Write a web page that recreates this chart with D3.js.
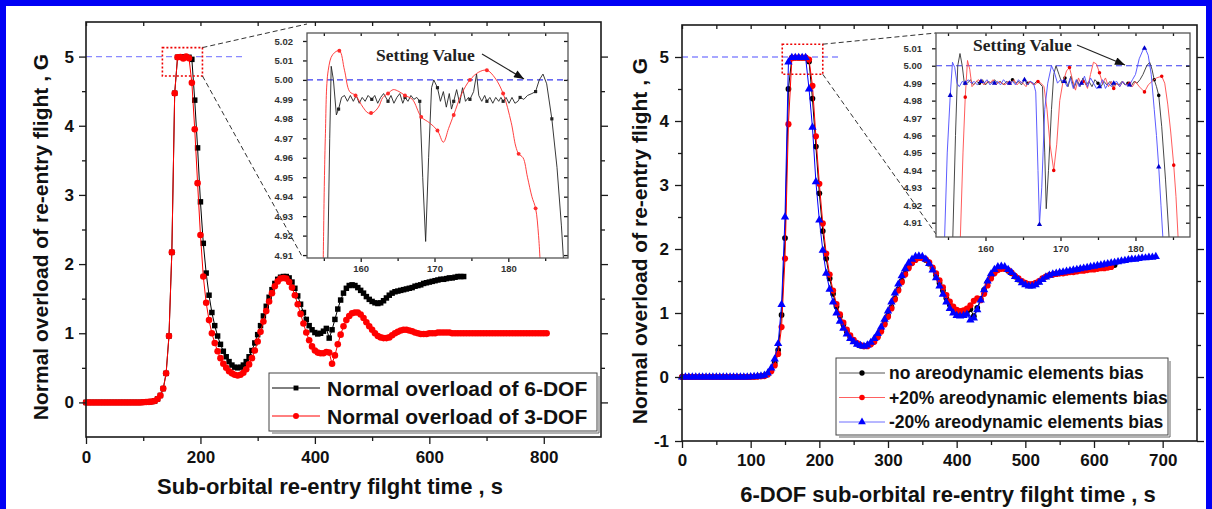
<!DOCTYPE html>
<html><head><meta charset="utf-8">
<script src="https://cdn.jsdelivr.net/npm/d3@7"></script>
<style>body{margin:0;background:#fff;}</style>
</head><body><script>
// ---------------- DATA ----------------
const STEP = 5; // sampling step (s) of the main-chart series, starting at t = 0

// Left chart: 6-DOF (black) and 3-DOF (red) normal overload, G
const left6DOF = [
0,0,0,0,0,0,0,0,0,0,
0,0,0,0,0,0,0,0,0,0,
0.003,0.005,0.008,0.012,0.02,0.05,0.1,0.2,0.42,0.96,
2.17,4.47,4.99,4.99,4.996,4.99,4.99,4.96,4.37,3.68,
2.9,2.3,1.87,1.55,1.3,1.11,0.96,0.84,0.74,0.66,
0.59,0.54,0.51,0.5,0.51,0.54,0.59,0.66,0.75,0.86,
0.98,1.11,1.25,1.39,1.52,1.63,1.72,1.78,1.81,1.82,
1.82,1.8,1.74,1.65,1.54,1.42,1.3,1.2,1.11,1.05,
1.01,0.99,1.0,1.03,1.07,0.93,1.05,1.2,1.35,1.48,
1.58,1.65,1.69,1.7,1.69,1.66,1.62,1.58,1.53,1.49,
1.46,1.44,1.43,1.44,1.47,1.51,1.55,1.58,1.6,1.61,
1.62,1.63,1.64,1.65,1.66,1.68,1.69,1.7,1.72,1.73,
1.74,1.75,1.76,1.77,1.78,1.78,1.79,1.8,1.8,1.81,
1.82,1.82,1.82];
const left3DOF = [
0,0,0,0,0,0,0,0,0,0,
0,0,0,0,0,0,0,0,0,0,
0.003,0.005,0.008,0.012,0.02,0.05,0.1,0.2,0.42,0.96,
2.17,4.47,4.99,4.994,4.974,5.0,4.975,4.62,3.95,3.17,
2.42,1.82,1.44,1.19,1.0,0.86,0.74,0.64,0.56,0.5,
0.45,0.42,0.4,0.39,0.4,0.43,0.48,0.55,0.64,0.75,
0.88,1.02,1.17,1.32,1.46,1.58,1.68,1.75,1.79,1.8,
1.79,1.74,1.66,1.55,1.42,1.28,1.14,1.01,0.9,0.81,
0.75,0.72,0.71,0.71,0.73,0.72,0.56,0.68,0.84,0.98,
1.1,1.19,1.25,1.29,1.3,1.3,1.27,1.22,1.16,1.1,
1.05,1.0,0.96,0.94,0.93,0.93,0.94,0.97,1.0,1.02,
1.04,1.05,1.05,1.04,1.03,1.01,1.0,0.99,0.99,0.99,
1.0,1.0,1.0,1.01,1.01,1.01,1.01,1.01,1.0,1.0,
1.0,1.0,1.0,1.0,1.0,1.0,1.0,1.0,1.0,1.0,
1.0,1.0,1.0,1.0,1.0,1.0,1.0,1.0,1.0,1.0,
1.0,1.0,1.0,1.0,1.0,1.0,1.0,1.0,1.0,1.0,
1.0,1.0];

// Right chart: 6-DOF with no / +20% / -20% aerodynamic bias
const rightNoBias = [
0,0,0,0,0,0,0,0,0,0,
0,0,0,0,0,0,0,0,0,0,
0.003,0.005,0.008,0.012,0.02,0.05,0.11,0.22,0.42,0.97,
2.17,4.5,4.99,4.991,4.99,4.99,4.99,4.93,4.35,3.6,
2.87,2.28,1.85,1.54,1.3,1.1,0.95,0.82,0.71,0.63,
0.56,0.52,0.49,0.48,0.49,0.52,0.57,0.64,0.73,0.84,
0.96,1.09,1.23,1.37,1.5,1.62,1.72,1.79,1.84,1.86,
1.86,1.83,1.77,1.69,1.59,1.47,1.35,1.23,1.13,1.05,
1.0,0.98,0.99,1.02,1.06,0.95,1.08,1.22,1.36,1.48,
1.58,1.65,1.69,1.7,1.69,1.66,1.62,1.57,1.52,1.48,
1.45,1.43,1.43,1.45,1.49,1.53,1.57,1.59,1.6,1.61,
1.62,1.63,1.64,1.65,1.66,1.67,1.68,1.69,1.69,1.7,
1.71,1.72,1.72,1.73,1.74,1.75,1.75];
const rightPlus20 = [
0,0,0,0,0,0,0,0,0,0,
0,0,0,0,0,0,0,0,0,0,
0.002,0.004,0.007,0.01,0.015,0.04,0.09,0.18,0.36,0.78,
1.85,3.95,4.98,4.99,4.99,4.99,4.99,4.96,4.55,3.76,
3.02,2.4,1.93,1.6,1.35,1.14,0.98,0.85,0.74,0.65,
0.58,0.53,0.5,0.48,0.48,0.51,0.55,0.62,0.71,0.82,
0.94,1.07,1.21,1.35,1.48,1.6,1.7,1.78,1.83,1.86,
1.86,1.84,1.79,1.71,1.62,1.51,1.4,1.28,1.18,1.1,
1.05,1.03,1.04,1.07,1.12,1.19,1.23,1.2,1.3,1.43,
1.54,1.62,1.67,1.69,1.69,1.67,1.63,1.58,1.54,1.5,
1.47,1.45,1.45,1.47,1.5,1.54,1.57,1.59,1.6,1.61,
1.62,1.62,1.63,1.64,1.64,1.65,1.66,1.66,1.67,1.68,
1.68,1.69,1.7,1.7,1.71,1.72];
const rightMinus20 = [
0,0,0,0,0,0,0,0,0,0,
0,0,0,0,0,0,0,0,0,0,
0.004,0.007,0.01,0.015,0.025,0.06,0.14,0.28,0.52,1.13,
2.5,4.92,4.99,4.99,4.99,4.99,4.99,4.5,3.9,3.05,
2.45,1.98,1.62,1.37,1.17,1.0,0.87,0.76,0.67,0.6,
0.55,0.51,0.49,0.48,0.5,0.54,0.6,0.68,0.78,0.9,
1.03,1.17,1.31,1.45,1.58,1.69,1.78,1.84,1.88,1.89,
1.88,1.84,1.77,1.67,1.55,1.42,1.29,1.17,1.07,1.0,
0.96,0.95,0.96,0.98,0.89,0.92,1.05,1.2,1.36,1.5,
1.61,1.68,1.72,1.73,1.72,1.68,1.63,1.57,1.52,1.47,
1.44,1.42,1.42,1.44,1.48,1.52,1.56,1.59,1.61,1.62,
1.63,1.64,1.65,1.66,1.67,1.68,1.69,1.7,1.71,1.72,
1.73,1.74,1.75,1.76,1.77,1.78,1.79,1.8,1.81,1.82,
1.83,1.84,1.84,1.85,1.86,1.86,1.87,1.87,1.88];

// Left inset (zoom of plateau), [time, G]
const inL6 = [[155.5,4.9],[155.8,4.97],[156.0,5.007],[156.3,5.0],[156.7,4.982],[157.0,4.985],[157.4,4.991],[157.8,4.992],[158.2,4.989],[158.6,4.992],[159.0,4.989],[159.4,4.992],[159.8,4.988],[160.2,4.991],[160.6,4.989],[161.0,4.992],[161.5,4.990],[161.9,4.992],[162.3,4.988],[162.7,4.991],[163.1,4.993],[163.7,4.989],[164.1,4.992],[164.5,4.988],[164.9,4.991],[165.3,4.993],[165.7,4.988],[166.0,4.991],[166.4,4.989],[166.8,4.992],[167.2,4.990],[167.6,4.991],[168.0,4.989],[168.4,4.95],[168.8,4.917],[169.2,4.96],[169.6,4.996],[169.9,5.0],[170.4,4.996],[170.8,4.989],[171.2,4.994],[171.6,4.986],[172.0,4.993],[172.3,4.985],[172.6,4.989],[173.0,4.995],[173.4,4.988],[173.8,4.996],[174.2,4.989],[174.6,4.991],[174.8,4.990],[175.3,4.994],[175.7,5.003],[176.0,4.992],[176.4,4.989],[176.8,4.992],[177.1,4.989],[177.5,4.991],[177.9,4.988],[178.3,4.991],[178.7,4.989],[179.0,4.991],[179.3,4.989],[179.7,4.991],[180.1,4.988],[180.5,4.991],[180.9,4.988],[181.3,4.989],[181.6,4.991],[182.1,4.990],[182.6,4.992],[183.2,4.993],[183.7,4.994],[184.2,5.0],[184.7,5.003],[185.2,4.998],[185.9,4.980],[186.6,4.955],[187.2,4.925],[187.6,4.9]];
const inL6Marks = [[157.0,4.985],[161.5,4.990],[163.7,4.989],[166.0,4.991],[168.0,4.989],[170.4,4.996],[172.6,4.989],[174.8,4.990],[177.1,4.989],[179.3,4.989],[181.6,4.991],[183.7,4.994],[185.9,4.980]];
const inL3 = [[154.9,4.9],[155.2,4.97],[155.6,5.005],[156.2,5.013],[157.1,5.015],[157.8,5.005],[158.5,4.994],[159.3,4.992],[160.3,4.986],[161.0,4.983],[161.6,4.983],[162.4,4.986],[163.0,4.991],[163.7,4.993],[164.4,4.995],[165.2,4.994],[166.0,4.992],[167.0,4.990],[168.2,4.981],[169.3,4.978],[170.4,4.974],[171.2,4.968],[171.9,4.975],[172.6,4.982],[173.7,4.993],[174.8,5.0],[176.0,5.004],[177.1,5.005],[178.2,5.001],[179.3,4.993],[180.4,4.978],[181.0,4.966],[181.4,4.962],[182.0,4.960],[182.6,4.950],[183.2,4.940],[183.7,4.934],[184.1,4.92],[184.4,4.9]];
const inL3Marks = [[157.1,5.015],[159.3,4.992],[161.4,4.983],[163.7,4.993],[166.0,4.992],[168.2,4.981],[170.4,4.974],[172.6,4.982],[174.8,5.0],[177.1,5.005],[179.3,4.993],[181.4,4.962],[183.7,4.934]];

// Right inset
const inR0 = [[155.6,4.895],[156.0,4.96],[156.3,5.0],[156.6,5.007],[156.9,5.0],[157.2,4.989],[157.6,4.990],[158.0,4.992],[158.4,4.989],[158.8,4.991],[159.2,4.990],[159.6,4.992],[160.0,4.989],[160.4,4.991],[160.8,4.990],[161.2,4.992],[161.6,4.990],[162.0,4.991],[162.4,4.989],[162.8,4.991],[163.2,4.990],[163.6,4.992],[164.0,4.990],[164.4,4.991],[164.8,4.989],[165.2,4.992],[165.6,4.990],[166.0,4.991],[166.4,4.989],[166.8,4.991],[167.2,4.990],[167.6,4.988],[167.9,4.95],[168.1,4.918],[168.4,4.94],[168.8,4.975],[169.1,4.995],[169.4,5.0],[169.8,4.995],[170.2,4.99],[170.6,4.993],[171.0,4.988],[171.4,4.994],[171.8,4.987],[172.2,4.992],[172.6,4.988],[173.0,4.993],[173.4,4.989],[173.8,4.991],[174.2,4.988],[174.6,4.992],[175.0,4.990],[175.4,4.988],[175.8,4.991],[176.2,4.989],[176.6,4.991],[177.0,4.988],[177.4,4.990],[177.8,4.989],[178.2,4.991],[178.6,4.989],[179.0,4.990],[179.4,4.988],[179.8,4.991],[180.2,4.990],[180.6,4.992],[181.0,4.995],[181.5,5.0],[181.9,5.002],[182.2,4.998],[182.5,4.992],[182.8,4.988],[183.1,4.983],[183.5,4.965],[184.0,4.935],[184.5,4.9]];
const inR0Marks = [[159.2,4.990],[163.6,4.992],[165.6,4.990],[170.6,4.993],[175.0,4.990],[179.0,4.990],[182.5,4.992],[183.1,4.983]];
const inRp = [[156.6,4.895],[157.0,4.95],[157.3,4.982],[157.6,5.003],[157.9,4.998],[158.2,4.988],[158.6,4.990],[159.0,4.992],[159.4,4.991],[159.8,4.989],[160.2,4.991],[160.6,4.990],[161.0,4.992],[161.4,4.989],[161.8,4.991],[162.2,4.990],[162.6,4.989],[163.0,4.991],[163.4,4.990],[163.8,4.992],[164.2,4.989],[164.6,4.991],[165.0,4.990],[165.4,4.988],[165.8,4.991],[166.2,4.990],[166.6,4.989],[167.0,4.991],[167.4,4.990],[167.8,4.988],[168.2,4.975],[168.6,4.955],[169.1,4.940],[169.5,4.955],[169.9,4.980],[170.3,4.990],[170.8,4.997],[171.2,4.999],[171.6,4.992],[172.0,4.986],[172.4,4.993],[172.8,4.989],[173.2,4.991],[173.6,4.987],[174.0,4.995],[174.4,5.002],[174.8,5.001],[175.2,4.996],[175.6,4.990],[176.0,4.993],[176.4,4.988],[176.8,4.991],[177.1,4.987],[177.5,4.990],[177.9,4.988],[178.3,4.991],[178.7,4.989],[179.2,4.990],[179.6,4.988],[180.0,4.991],[180.5,4.988],[181.2,4.985],[181.7,4.989],[182.2,4.991],[182.8,4.993],[183.5,4.994],[183.9,4.990],[184.3,4.978],[184.7,4.962],[185.1,4.943],[185.4,4.925],[185.7,4.9]];
const inRpMarks = [[157.3,4.982],[159.4,4.991],[163.2,4.990],[167.0,4.991],[169.1,4.940],[171.2,4.999],[173.0,4.991],[175.2,4.996],[177.1,4.987],[179.2,4.990],[181.2,4.985],[183.5,4.994],[185.1,4.943]];
const inRm = [[154.5,4.895],[154.9,4.95],[155.3,4.983],[155.6,5.002],[155.9,4.999],[156.2,4.99],[156.5,4.988],[156.9,4.991],[157.3,4.990],[157.7,4.992],[158.1,4.990],[158.5,4.991],[158.9,4.989],[159.4,4.991],[159.8,4.990],[160.2,4.992],[160.6,4.989],[161.0,4.991],[161.2,4.990],[161.6,4.991],[162.0,4.989],[162.4,4.992],[162.8,4.990],[163.2,4.990],[163.6,4.991],[164.0,4.989],[164.4,4.992],[164.8,4.990],[165.2,4.992],[165.6,4.989],[166.0,4.991],[166.4,4.990],[166.7,4.985],[167.0,4.94],[167.2,4.909],[167.5,4.93],[167.9,4.975],[168.3,4.99],[168.8,5.0],[169.2,4.996],[169.6,4.99],[170.0,4.992],[170.5,4.991],[170.9,4.988],[171.3,4.993],[171.7,4.987],[172.1,4.992],[172.5,4.988],[172.8,4.990],[173.2,4.994],[173.6,4.988],[174.0,4.993],[174.4,4.990],[174.8,4.987],[175.2,4.988],[175.6,4.992],[176.0,4.987],[176.4,4.990],[176.8,4.988],[177.1,4.990],[177.5,4.991],[177.9,4.988],[178.3,4.991],[178.7,4.989],[179.2,4.989],[179.6,4.992],[180.0,4.995],[180.5,5.004],[181.0,5.009],[181.3,5.010],[181.7,5.006],[182.1,4.995],[182.5,4.975],[182.8,4.96],[183.1,4.942],[183.4,4.92],[183.7,4.898]];
const inRmMarks = [[155.3,4.983],[157.3,4.990],[159.4,4.991],[161.2,4.990],[163.2,4.990],[165.2,4.992],[167.2,4.909],[170.5,4.991],[172.8,4.990],[175.2,4.988],[177.1,4.990],[179.2,4.989],[181.2,5.010],[183.1,4.942]];

// Ticks / labels
const leftXMajor = [0,200,400,600,800], leftXMinor = [100,300,500,700];
const leftYMajor = [0,1,2,3,4,5], leftYMinor = [0.5,1.5,2.5,3.5,4.5];
const rightXMajor = [0,100,200,300,400,500,600,700], rightXMinor = [50,150,250,350,450,550,650];
const rightYMajor = [-1,0,1,2,3,4,5], rightYMinor = [-0.5,0.5,1.5,2.5,3.5,4.5];
const inLYTicks = [4.91,4.92,4.93,4.94,4.95,4.96,4.97,4.98,4.99,5.00,5.01,5.02];
const inRYTicks = [4.91,4.92,4.93,4.94,4.95,4.96,4.97,4.98,4.99,5.00,5.01];
const inXMajor = [160,170,180], inXMinor = [155,165,175,185];
const SETTING = 5.0;
const yTitle = "Normal overload of re-entry flight , G";
const leftXTitle = "Sub-orbital re-entry filght time , s";
const rightXTitle = "6-DOF sub-orbital re-entry filght time , s";
const leftLegend = ["Normal overload of 6-DOF","Normal overload of 3-DOF"];
const rightLegend = ["no areodynamic elements bias","+20% areodynamic elements bias","-20% areodynamic elements bias"];
const settingLabel = "Setting Value";

// ---------------- DRAWING ----------------
const SANS = "Arial, 'Liberation Sans', sans-serif";
const SERIF = "'Times New Roman', 'Liberation Serif', serif";
const intFmt = d => String(d);           // plain hyphen-minus like the original
const svg = d3.select("body").append("svg").attr("width",1212).attr("height",509).style("display","block");
svg.append("rect").attr("width",1212).attr("height",509).attr("fill","#fff");
// blue frame
svg.append("rect").attr("x",0).attr("y",0).attr("width",1212).attr("height",6).attr("fill","#0000f5");
svg.append("rect").attr("x",0).attr("y",0).attr("width",6).attr("height",509).attr("fill","#0000f5");
svg.append("rect").attr("x",1206).attr("y",0).attr("width",6).attr("height",509).attr("fill","#0000f5");

const defs = svg.append("defs");
defs.append("marker").attr("id","arr").attr("viewBox","0 0 10 8").attr("refX",10).attr("refY",4)
  .attr("markerWidth",11).attr("markerHeight",8).attr("markerUnits","userSpaceOnUse").attr("orient","auto")
  .append("path").attr("d","M0,0 L10,4 L0,8 Z").attr("fill","#111");

const sym = (type,size)=>d3.symbol().type(type).size(size)();
const toPts = vals => vals.map((v,i)=>[i*STEP, v]);

function styleAxis(sel, fs){
  sel.attr("font-family",SANS).attr("font-weight","bold").attr("font-size",fs);
  sel.select(".domain").remove();
  sel.selectAll(".tick line").attr("stroke","#1a1a1a").attr("stroke-width",1.3);
  sel.selectAll(".tick text").attr("fill","#111");
}

function frameAxes(g, x, y, o){
  const b = o.bottom, t = o.top, l = o.left, r = o.right;
  styleAxis(g.append("g").attr("transform",`translate(0,${b})`).call(d3.axisBottom(x).tickValues(o.xMajor).tickSize(o.maj).tickPadding(o.xPad).tickFormat(o.xFmt)), o.fs);
  styleAxis(g.append("g").attr("transform",`translate(0,${b})`).call(d3.axisBottom(x).tickValues(o.xMinor).tickSize(o.min).tickFormat("")), o.fs);
  styleAxis(g.append("g").attr("transform",`translate(0,${t})`).call(d3.axisBottom(x).tickValues(o.xMajor.concat(o.xMinor)).tickSize(o.min).tickFormat("")), o.fs);
  styleAxis(g.append("g").attr("transform",`translate(${l},0)`).call(d3.axisLeft(y).tickValues(o.yMajor).tickSize(o.maj).tickPadding(o.yPad).tickFormat(o.yFmt)), o.fs);
  styleAxis(g.append("g").attr("transform",`translate(${l},0)`).call(d3.axisLeft(y).tickValues(o.yMinor).tickSize(o.min).tickFormat("")), o.fs);
  styleAxis(g.append("g").attr("transform",`translate(${r},0)`).call(d3.axisRight(y).tickValues(o.yMajor).tickSize(o.rmaj).tickFormat("")), o.fs);
  styleAxis(g.append("g").attr("transform",`translate(${r},0)`).call(d3.axisRight(y).tickValues(o.yMinor).tickSize(o.rmin).tickFormat("")), o.fs);
  g.append("rect").attr("x",l).attr("y",t).attr("width",r-l).attr("height",b-t)
    .attr("fill","none").attr("stroke",o.frameColor||"#1a1a1a").attr("stroke-width",o.fw||1.6);
}

function drawSeries(g, x, y, pts, color, shape, lw, markPts){
  g.append("path").datum(pts).attr("d", d3.line().x(d=>x(d[0])).y(d=>y(d[1])))
    .attr("fill","none").attr("stroke",color).attr("stroke-width",lw).attr("stroke-linejoin","round");
  g.append("g").selectAll("path").data(markPts||pts).join("path").attr("d",shape)
    .attr("transform",d=>`translate(${x(d[0])},${y(d[1])})`).attr("fill",color);
}

function inset(o){
  const x = d3.scaleLinear().domain(o.xd).range([o.left,o.right]);
  const y = d3.scaleLinear().domain(o.yd).range([o.bottom,o.top]);
  const g = svg.append("g");
  g.append("rect").attr("x",o.left).attr("y",o.top).attr("width",o.right-o.left).attr("height",o.bottom-o.top).attr("fill","#fff");
  const cid = "clip"+o.id;
  defs.append("clipPath").attr("id",cid).append("rect").attr("x",o.left).attr("y",o.top).attr("width",o.right-o.left).attr("height",o.bottom-o.top);
  const dg = g.append("g").attr("clip-path",`url(#${cid})`);
  dg.append("line").attr("x1",o.left).attr("x2",o.right).attr("y1",y(SETTING)).attr("y2",y(SETTING))
    .attr("stroke","#3a3af0").attr("stroke-width",1.2).attr("stroke-dasharray","6,4");
  o.series.forEach(s=>{
    dg.append("path").datum(s.pts).attr("d", d3.line().curve(s.curve||d3.curveLinear).x(d=>x(d[0])).y(d=>y(d[1])))
      .attr("fill","none").attr("stroke",s.color).attr("stroke-width",0.9);
    dg.append("g").selectAll("path").data(s.marks).join("path").attr("d",s.shape)
      .attr("transform",d=>`translate(${x(d[0])},${y(d[1])})`).attr("fill",s.mcolor||s.color);
  });
  frameAxes(g, x, y, {bottom:o.bottom, top:o.top, left:o.left, right:o.right,
    xMajor:inXMajor, xMinor:inXMinor, yMajor:o.yTicks, yMinor:[], maj:4, min:3, rmaj:-4, rmin:-3,
    xPad:o.xPad, yPad:o.yPad, fs:9.5, xFmt:d3.format("d"), yFmt:d3.format(".2f"), frameColor:"#555", fw:1.3});
  g.selectAll(".tick text").attr("fill","#333");
  g.append("text").attr("x",o.labelX).attr("y",o.labelY).attr("font-family",SERIF).attr("font-weight","bold")
    .attr("font-size",17.5).attr("fill","#222").text(settingLabel);
  g.append("line").attr("x1",o.arrow[0]).attr("y1",o.arrow[1]).attr("x2",o.arrow[2]).attr("y2",o.arrow[3])
    .attr("stroke","#222").attr("stroke-width",1.2).attr("marker-end","url(#arr)");
}

// ===== LEFT PANEL =====
(function(){
  const o = {left:86, right:601, top:22, bottom:437};
  const x = d3.scaleLinear().domain([0,900]).range([o.left,o.right]);
  const y = d3.scaleLinear().domain([-0.5,5.5]).range([o.bottom,o.top]);
  const g = svg.append("g");
  g.append("line").attr("x1",x(0)).attr("x2",x(278)).attr("y1",y(SETTING)).attr("y2",y(SETTING))
    .attr("stroke","#8a8aff").attr("stroke-width",1.3).attr("stroke-dasharray","6,4");
  drawSeries(g, x, y, toPts(left6DOF), "#000", sym(d3.symbolSquare,30), 1);
  drawSeries(g, x, y, toPts(left3DOF), "#ff0000", sym(d3.symbolCircle,34), 1);
  g.append("rect").attr("x",x(133.5)).attr("y",y(5.13)).attr("width",x(203.5)-x(133.5)).attr("height",y(4.72)-y(5.13))
    .attr("fill","none").attr("stroke","#e00").attr("stroke-width",1.6).attr("stroke-dasharray","2,2");
  g.append("line").attr("x1",x(203.5)).attr("y1",y(5.13)).attr("x2",307).attr("y2",24).attr("stroke","#333").attr("stroke-width",1).attr("stroke-dasharray","5,3");
  g.append("line").attr("x1",x(203.5)).attr("y1",y(4.72)).attr("x2",303).attr("y2",258).attr("stroke","#333").attr("stroke-width",1).attr("stroke-dasharray","5,3");
  frameAxes(g, x, y, {...o, xMajor:leftXMajor, xMinor:leftXMinor, yMajor:leftYMajor, yMinor:leftYMinor,
    maj:7, min:4, rmaj:7, rmin:4, xPad:7, yPad:5, fs:17, xFmt:intFmt, yFmt:intFmt});
  const L = {x:269, y:373, w:328, h:58};
  g.append("path").attr("d",`M${L.x+3},${L.y+L.h+2} H${L.x+L.w+2} V${L.y+3}`).attr("fill","none").attr("stroke","#666").attr("stroke-width",1);
  g.append("rect").attr("x",L.x).attr("y",L.y).attr("width",L.w).attr("height",L.h).attr("fill","#fff").attr("stroke","#444").attr("stroke-width",1);
  const lc = [["#000",sym(d3.symbolSquare,24)],["#ff0000",sym(d3.symbolCircle,28)]];
  leftLegend.forEach((txt,i)=>{
    const yy = 388 + i*28;
    g.append("line").attr("x1",272).attr("x2",320).attr("y1",yy).attr("y2",yy).attr("stroke",lc[i][0]).attr("stroke-width",1);
    g.append("path").attr("d",lc[i][1]).attr("transform",`translate(296,${yy})`).attr("fill",lc[i][0]);
    g.append("text").attr("x",327).attr("y",yy).attr("dy","0.36em").attr("font-family",SANS).attr("font-weight","bold")
      .attr("font-size",21).attr("fill","#111").text(txt);
  });
  g.append("text").attr("x",330).attr("y",494).attr("text-anchor","middle").attr("font-family",SANS).attr("font-weight","bold").attr("font-size",22).attr("fill","#111").text(leftXTitle);
  g.append("text").attr("transform","translate(40,237) rotate(-90)").attr("text-anchor","middle").attr("dy","0.36em").attr("font-family",SANS).attr("font-weight","bold").attr("font-size",21).attr("fill","#111").text(yTitle);
})();

inset({id:"L", left:307, right:568, top:33, bottom:258, xd:[152.72,188.09], yd:[4.9085,5.0241], yTicks:inLYTicks,
  xPad:3, yPad:10, labelX:376, labelY:61, arrow:[482,54,524,79],
  series:[
    {pts:inL6, marks:inL6Marks, color:"#222", shape:sym(d3.symbolSquare,10)},
    {pts:inL3, marks:inL3Marks, color:"#ff2a2a", shape:sym(d3.symbolCircle,12), curve:d3.curveCatmullRom}
  ]});

// ===== RIGHT PANEL =====
(function(){
  const o = {left:682, right:1197, top:25, bottom:441};
  const x = d3.scaleLinear().domain([0,750]).range([o.left,o.right]);
  const y = d3.scaleLinear().domain([-1,5.5]).range([o.bottom,o.top]);
  const g = svg.append("g");
  g.append("line").attr("x1",x(0)).attr("x2",x(231)).attr("y1",y(SETTING)).attr("y2",y(SETTING))
    .attr("stroke","#8a8aff").attr("stroke-width",1.3).attr("stroke-dasharray","6,4");
  drawSeries(g, x, y, toPts(rightNoBias), "#000", sym(d3.symbolCircle,26), 1);
  drawSeries(g, x, y, toPts(rightPlus20), "#ff0000", sym(d3.symbolCircle,30), 1);
  drawSeries(g, x, y, toPts(rightMinus20), "#0000ff", sym(d3.symbolTriangle,30), 1);
  g.append("rect").attr("x",x(146)).attr("y",y(5.2)).attr("width",x(205)-x(146)).attr("height",y(4.73)-y(5.2))
    .attr("fill","none").attr("stroke","#e00").attr("stroke-width",1.6).attr("stroke-dasharray","2,2");
  g.append("line").attr("x1",x(205)).attr("y1",y(5.2)).attr("x2",936).attr("y2",33).attr("stroke","#333").attr("stroke-width",1).attr("stroke-dasharray","5,3");
  g.append("line").attr("x1",x(205)).attr("y1",y(4.73)).attr("x2",936).attr("y2",234).attr("stroke","#333").attr("stroke-width",1).attr("stroke-dasharray","5,3");
  frameAxes(g, x, y, {...o, xMajor:rightXMajor, xMinor:rightXMinor, yMajor:rightYMajor, yMinor:rightYMinor,
    maj:7, min:4, rmaj:7, rmin:4, xPad:6, yPad:6, fs:17, xFmt:intFmt, yFmt:intFmt});
  const L = {x:836, y:358, w:332, h:77};
  g.append("path").attr("d",`M${L.x+3},${L.y+L.h+2} H${L.x+L.w+2} V${L.y+3}`).attr("fill","none").attr("stroke","#666").attr("stroke-width",1);
  g.append("rect").attr("x",L.x).attr("y",L.y).attr("width",L.w).attr("height",L.h).attr("fill","#fff").attr("stroke","#444").attr("stroke-width",1);
  const lc = [["#000","#555",sym(d3.symbolCircle,22)],["#ff0000","#ff6060",sym(d3.symbolCircle,24)],["#0000ff","#6f6fff",sym(d3.symbolTriangle,26)]];
  rightLegend.forEach((txt,i)=>{
    const yy = 373 + i*24.5;
    g.append("line").attr("x1",839).attr("x2",885).attr("y1",yy).attr("y2",yy).attr("stroke",lc[i][1]).attr("stroke-width",1);
    g.append("path").attr("d",lc[i][2]).attr("transform",`translate(862,${yy})`).attr("fill",lc[i][0]);
    g.append("text").attr("x",889).attr("y",yy).attr("dy","0.36em").attr("font-family",SANS).attr("font-weight","bold")
      .attr("font-size",17.5).attr("fill","#111").text(txt);
  });
  g.append("text").attr("x",948).attr("y",502).attr("text-anchor","middle").attr("font-family",SANS).attr("font-weight","bold").attr("font-size",22).attr("fill","#111").text(rightXTitle);
  g.append("text").attr("transform","translate(639,241) rotate(-90)").attr("text-anchor","middle").attr("dy","0.36em").attr("font-family",SANS).attr("font-weight","bold").attr("font-size",21).attr("fill","#111").text(yTitle);
})();

inset({id:"R", left:936, right:1190, top:33, bottom:237, xd:[153.4,187.27], yd:[4.9018,5.01877], yTicks:inRYTicks,
  xPad:4, yPad:10, labelX:973, labelY:51, arrow:[1077,45,1125,65],
  series:[
    {pts:inR0, marks:inR0Marks, color:"#333", mcolor:"#000", shape:sym(d3.symbolCircle,10)},
    {pts:inRp, marks:inRpMarks, color:"#ff4a4a", mcolor:"#e00", shape:sym(d3.symbolCircle,10)},
    {pts:inRm, marks:inRmMarks, color:"#4a4aff", mcolor:"#00c", shape:sym(d3.symbolTriangle,12)}
  ]});
</script></body></html>
